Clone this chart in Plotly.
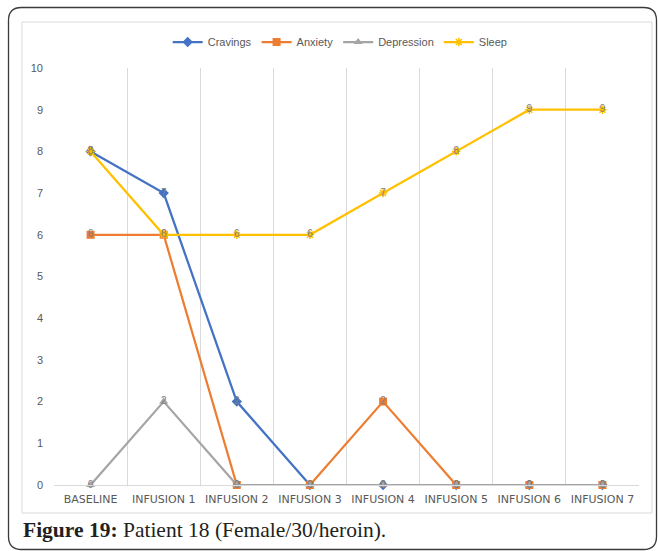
import plotly.graph_objects as go

categories = ["BASELINE", "INFUSION 1", "INFUSION 2", "INFUSION 3",
              "INFUSION 4", "INFUSION 5", "INFUSION 6", "INFUSION 7"]
cravings = [8, 7, 2, 0, 0, 0, 0, 0]
anxiety = [6, 6, 0, 0, 2, 0, 0, 0]
depression = [0, 2, 0, 0, 0, 0, 0, 0]
sleep = [8, 6, 6, 6, 7, 8, 9, 9]

series = [
    ("Cravings", cravings, "#4472C4", "diamond", 8, 0),
    ("Anxiety", anxiety, "#ED7D31", "square", 8, 0),
    ("Depression", depression, "#A5A5A5", "triangle-up", 8, 0),
    ("Sleep", sleep, "#FFC000", "asterisk-open", 7, 1.5),
]

W, H = 658, 551
L, R, T, B = 54, 639, 68, 485

fig = go.Figure()
for name, vals, col, sym, size, lw in series:
    fig.add_trace(go.Scatter(
        x=categories, y=vals, name=name, mode="lines+markers+text",
        line=dict(color=col, width=2.25),
        marker=dict(symbol=sym, size=size, color=col,
                    line=dict(color=col, width=lw)),
        text=[str(v) for v in vals], textposition="middle center",
        textfont=dict(family="Liberation Sans", size=10, color="#7F7F7F"),
        cliponaxis=False, hoverinfo="skip",
    ))

def px(x):
    return (x - L) / (R - L)

def py(y):
    return (B - y) / (B - T)

# outer rounded frame
x0, x1, y0, y1, r = 8.5, 656.5, 7.5, 549.5, 13
path = (f"M {px(x0+r)},{py(y0)} L {px(x1-r)},{py(y0)} "
        f"Q {px(x1)},{py(y0)} {px(x1)},{py(y0+r)} "
        f"L {px(x1)},{py(y1-r)} Q {px(x1)},{py(y1)} {px(x1-r)},{py(y1)} "
        f"L {px(x0+r)},{py(y1)} Q {px(x0)},{py(y1)} {px(x0)},{py(y1-r)} "
        f"L {px(x0)},{py(y0+r)} Q {px(x0)},{py(y0)} {px(x0+r)},{py(y0)} Z")
shapes = [
    dict(type="path", xref="paper", yref="paper", path=path,
         line=dict(color="#3A3A3A", width=1.3), layer="below"),
    dict(type="rect", xref="paper", yref="paper",
         x0=px(22), x1=px(652), y0=py(513), y1=py(22),
         line=dict(color="#D9D9D9", width=1), layer="below"),
]

fig.update_layout(
    width=W, height=H,
    margin=dict(l=L, r=W - R, t=T, b=H - B, autoexpand=False),
    paper_bgcolor="white", plot_bgcolor="white",
    font=dict(family="Liberation Sans", color="#595959", size=11),
    shapes=shapes,
    showlegend=True,
    legend=dict(orientation="h", xref="container", yref="container",
                x=0.517, xanchor="center", y=1 - 42 / H, yanchor="middle",
                font=dict(size=11, color="#595959"),
                itemwidth=30, tracegroupgap=0, bgcolor="rgba(0,0,0,0)"),
    annotations=[dict(
        xref="paper", yref="paper", x=px(21), y=py(530),
        xanchor="left", yanchor="middle", showarrow=False,
        text="<b>Figure 19:</b> Patient 18 (Female/30/heroin).",
        font=dict(family="Liberation Serif", size=21.5, color="#231F20"),
    )],
)
fig.update_xaxes(
    type="category", range=[-0.5, 7.5], tickson="boundaries",
    showgrid=True, gridcolor="#D9D9D9", gridwidth=1,
    showline=True, linecolor="#D9D9D9", linewidth=1,
    ticks="", tickangle=0,
    tickfont=dict(family="DejaVu Sans", size=11, color="#595959"),
    ticklabelstandoff=4, zeroline=False, fixedrange=True,
)
fig.update_yaxes(
    range=[0, 10], dtick=1, showgrid=False, zeroline=False, showline=False,
    ticks="", ticklabelstandoff=10,
    tickfont=dict(family="Liberation Sans", size=11, color="#595959"),
    fixedrange=True,
)

fig.write_html(
    "out.html",
    config={"displayModeBar": False},
    post_script="document.body.style.margin='0';document.body.style.overflow='hidden';",
)
